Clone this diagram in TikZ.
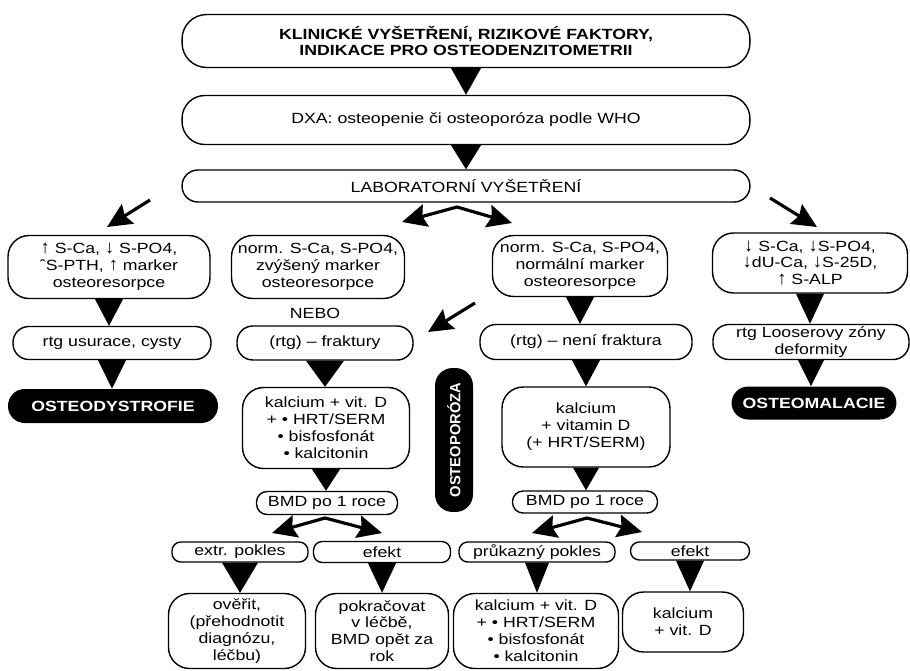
\documentclass[tikz,border=0pt]{standalone}
\usepackage{fontspec}
\setmainfont{Liberation Sans}[FakeStretch=1.2]
\newfontfamily\uprightsans{Liberation Sans}
\usetikzlibrary{arrows.meta}

\newcommand{\upar}{{\uprightsans\fontsize{10.5}{9.6}\selectfont ↑}}
\newcommand{\dnar}{{\uprightsans\fontsize{10.5}{9.6}\selectfont ↓}}

\tikzset{
  box/.style={draw, line width=0.8pt, rounded corners=#1, align=center, inner sep=0pt,
    font=\fontsize{8.4}{9.6}\selectfont},
  box/.default=10pt,
  blackbox/.style={fill=black, text=white, rounded corners=9.5pt, inner sep=0pt,
    font=\fontsize{8.4}{9.6}\selectfont\bfseries},
  fat/.style={line width=1.8pt, -{Stealth[length=14pt,width=13pt,inset=2pt]}},
  fatboth/.style={line width=1.8pt, {Stealth[length=14pt,width=13pt,inset=2pt]}-{Stealth[length=14pt,width=13pt,inset=2pt]}}
}

\begin{document}
\begin{tikzpicture}[x=0.02cm, y=-0.02cm]
    \useasboundingbox (0,0) rectangle (910,670);

    % Top boxes
    \node (klin) at (466,41) [box=14pt, minimum width=11.36cm, minimum height=1.06cm]
      {\textbf{KLINICKÉ VYŠETŘENÍ, RIZIKOVÉ FAKTORY,}\\[-1pt]\textbf{INDIKACE PRO OSTEODENZITOMETRII}};
    \node (dxa) at (466,120) [box=13pt, minimum width=11.36cm, minimum height=0.98cm]
      {DXA: osteopenie či osteoporóza podle WHO};
    \node (lab) at (466,186) [box=9pt, minimum width=11.36cm, minimum height=0.64cm]
      {LABORATORNÍ VYŠETŘENÍ};

    % Left column
    \node (hyper) at (109,267) [box=12pt, minimum width=4.04cm, minimum height=1.26cm]
      {\upar\ S-Ca, \dnar\ S-PO4,\\ˆS-PTH, \upar\ marker\\osteoresorpce};
    \node (usur) at (112,343) [box=9pt, minimum width=3.96cm, minimum height=0.66cm]
      {rtg usurace, cysty};
    \node (dystr) at (113,406) [blackbox, minimum width=4.2cm, minimum height=0.68cm]
      {OSTEODYSTROFIE};

    % Osteoporosis with fracture
    \node (zvys) at (318,267) [box=12pt, minimum width=3.46cm, minimum height=1.26cm]
      {norm. S-Ca, S-PO4,\\zvýšený marker\\osteoresorpce};
    \node (nebo) at (315,313) [font=\fontsize{8.4}{9.6}\selectfont] {NEBO};
    \node (frakt) at (325,343) [box=9pt, minimum width=3.52cm, minimum height=0.68cm]
      {(rtg) – fraktury};
    \node (lecba) at (326,428) [box=12pt, minimum width=3.34cm, minimum height=1.62cm]
      {kalcium + vit. D\\+ • HRT/SERM\\• bisfosfonát\\• kalcitonin};
    \node (bmdl) at (327,503) [box=6pt, minimum width=2.82cm, minimum height=0.46cm]
      {BMD po 1 roce};
    \node (extr) at (240,552) [box=5pt, minimum width=2.72cm, minimum height=0.4cm]
      {extr. pokles};
    \node (efl) at (382,552) [box=5pt, minimum width=2.74cm, minimum height=0.42cm]
      {efekt};
    \node (overit) at (237,631) [box=12pt, minimum width=2.74cm, minimum height=1.5cm]
      {ověřit,\\(přehodnotit\\diagnózu,\\léčbu)};
    \node (pokr) at (382,631) [box=12pt, minimum width=2.66cm, minimum height=1.5cm]
      {pokračovat\\v léčbě,\\BMD opět za\\rok};

    % Vertical label
    \node (ostp) at (454,440) [blackbox, rotate=90, rounded corners=10pt,
      minimum width=2.88cm, minimum height=0.76cm,
      font=\uprightsans\bfseries\fontsize{8.4}{9}\selectfont] {OSTEOPORÓZA};

    % Osteoporosis without fracture
    \node (norm) at (580,266) [box=12pt, minimum width=3.5cm, minimum height=1.22cm]
      {norm. S-Ca, S-PO4,\\normální marker\\osteoresorpce};
    \node (nenif) at (586,342) [box=9pt, minimum width=4.24cm, minimum height=0.7cm]
      {(rtg) – není fraktura};
    \node (kalvit) at (586,427) [box=12pt, minimum width=3.36cm, minimum height=1.6cm]
      {kalcium\\+ vitamin D\\(+ HRT/SERM)};
    \node (bmdr) at (585,502) [box=6pt, minimum width=2.9cm, minimum height=0.44cm]
      {BMD po 1 roce};
    \node (prok) at (537,552) [box=5pt, minimum width=3.12cm, minimum height=0.4cm]
      {průkazný pokles};
    \node (efr) at (690,551) [box=5pt, minimum width=2.38cm, minimum height=0.36cm]
      {efekt};
    \node (lecbb) at (536,631) [box=12pt, minimum width=3.3cm, minimum height=1.5cm]
      {kalcium + vit. D\\+ • HRT/SERM\\• bisfosfonát\\• kalcitonin};
    \node (kalcr) at (683,622) [box=12pt, minimum width=2.42cm, minimum height=1.2cm]
      {kalcium\\+ vit. D};

    % Right column
    \node (hypo) at (810,263) [box=12pt, minimum width=3.9cm, minimum height=1.2cm]
      {\dnar\ S-Ca, \dnar S-PO4,\\\dnar dU-Ca, \dnar S-25D,\\\upar\ S-ALP};
    \node (loos) at (811,342) [box=9pt, minimum width=3.92cm, minimum height=0.7cm]
      {rtg Looserovy zóny\\deformity};
    \node (malac) at (814,403) [blackbox, minimum width=3.3cm, minimum height=0.66cm]
      {OSTEOMALACIE};

    % Triangles between boxes
    \foreach \a/\b/\w in {klin/dxa/15, dxa/lab/15, hyper/usur/14, usur/dystr/14,
        frakt/lecba/19, lecba/bmdl/14, extr/overit/18, efl/pokr/14,
        norm/nenif/14, nenif/kalvit/14, kalvit/bmdr/13, prok/lecbb/12, efr/kalcr/14,
        hypo/loos/14, loos/malac/13}
      \fill (\a.south) ++(-\w,0) -- ++(2*\w,0) -- (\a.south |- \b.north) -- cycle;

    % Fat arrows
    \coordinate (labl) at (150,200);
    \coordinate (labltip) at (107,227);
    \coordinate (labr) at (770,198);
    \coordinate (labrtip) at (817,227);
    \coordinate (labm1) at (402,222);
    \coordinate (labm) at (457,207);
    \coordinate (labm2) at (512,223);
    \coordinate (nebol) at (475,303);
    \coordinate (nebotip) at (428,332);
    \coordinate (bmdl1) at (272,533);
    \coordinate (bmdlm) at (325,518);
    \coordinate (bmdl2) at (382,533);
    \coordinate (bmdr1) at (532,533);
    \coordinate (bmdrm) at (587,518);
    \coordinate (bmdr2) at (642,532);

    \draw[fat] (labl) -- (labltip);
    \draw[fat] (labr) -- (labrtip);
    \draw[fat] (nebol) -- (nebotip);
    \draw[fatboth] (labm1) -- (labm) -- (labm2);
    \draw[fatboth] (bmdl1) -- (bmdlm) -- (bmdl2);
    \draw[fatboth] (bmdr1) -- (bmdrm) -- (bmdr2);
\end{tikzpicture}
\end{document}
